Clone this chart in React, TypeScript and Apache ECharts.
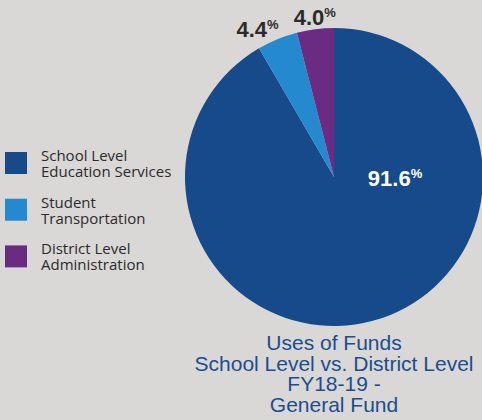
import React, { useEffect, useRef } from "react";
import * as echarts from "echarts";

const categories = [
  "School Level\nEducation Services",
  "Student\nTransportation",
  "District Level\nAdministration",
];
const shares = [91.6, 4.4, 4.0];
const colors = ["#164a8a", "#2589cf", "#6a2c82"];
const titleLines = [
  "Uses of Funds",
  "School Level vs. District Level",
  "FY18-19 -",
  "General Fund",
];

export default function App() {
  const ref = useRef<HTMLDivElement>(null);
  useEffect(() => {
    const chart = echarts.init(ref.current!, null, { renderer: "svg" });
    const data = categories.map((name, i) => ({
      name,
      value: shares[i],
      itemStyle: { color: colors[i] },
      label:
        i === 0
          ? { position: "center", color: "#ffffff" }
          : { position: "outside", color: "#2b2b2b" },
    }));
    chart.setOption({
      animation: false,
      backgroundColor: "#d9d8d6",
      title: {
        text: titleLines.join("\n"),
        left: 334,
        top: 332,
        padding: 0,
        textAlign: "center",
        textStyle: {
          fontFamily: "Liberation Sans",
          fontSize: 21,
          lineHeight: 20.7,
          fontWeight: "normal",
          color: "#1d4d8e",
        },
      },
      legend: {
        orient: "vertical",
        left: 5,
        top: 145,
        padding: 0,
        itemWidth: 22,
        itemHeight: 22,
        itemGap: 10.7,
        icon: "rect",
        data: categories,
        selectedMode: false,
        textStyle: {
          fontFamily: "Open Sans",
          fontSize: 15,
          lineHeight: 16,
          color: "#2b2b2b",
          padding: [4, 0, 0, 9],
        },
      },
      series: [
        {
          type: "pie",
          center: [334, 177],
          radius: 149,
          startAngle: 90,
          clockwise: true,
          data,
          labelLine: { show: false, length: 12, length2: 0 },
          label: {
            formatter: (p: any) => `{a|${Number(p.value).toFixed(1)}}{b|%}`,
            rich: {
              a: {
                fontFamily: "Liberation Sans",
                fontWeight: "bold",
                fontSize: 22,
                lineHeight: 22,
              },
              b: {
                fontFamily: "Liberation Sans",
                fontWeight: "bold",
                fontSize: 13,
                lineHeight: 22,
                verticalAlign: "top",
              },
            },
          },
          labelLayout: (p: any) => {
            if (p.dataIndex === 0) return { dx: 61, dy: 1 };
            if (p.dataIndex === 1) return { align: "center", dx: 11, dy: -12 };
            return { align: "center", dx: 6 };
          },
        },
      ],
    });
    return () => chart.dispose();
  }, []);
  return (
    <div
      ref={ref}
      style={{ position: "absolute", left: 0, top: 0, width: 482, height: 420 }}
    />
  );
}
